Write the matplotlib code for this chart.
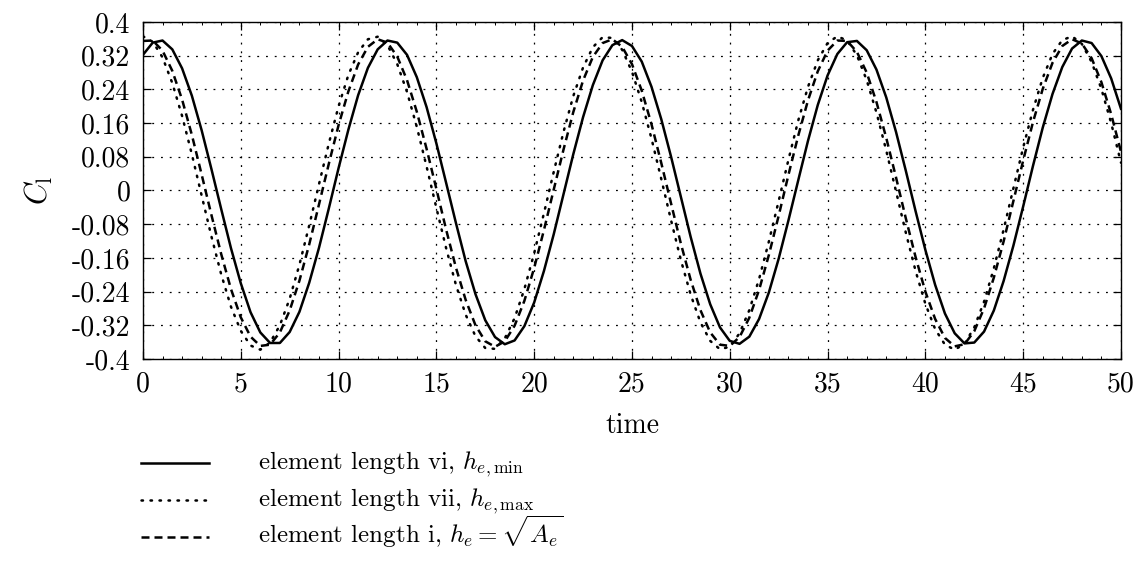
import numpy as np
import matplotlib
matplotlib.use('Agg')
import matplotlib.pyplot as plt
from matplotlib.lines import Line2D

time = np.linspace(0, 50, 101)

cl_vi = [0.322, 0.351, 0.356, 0.335, 0.290, 0.225, 0.143, 0.051, -0.044, -0.137,
         -0.220, -0.289, -0.337, -0.362, -0.362, -0.336, -0.288, -0.219, -0.136, -0.043,
         0.053, 0.144, 0.226, 0.291, 0.335, 0.356, 0.351, 0.322, 0.269, 0.198,
         0.112, 0.018, -0.077, -0.168, -0.246, -0.308, -0.348, -0.365, -0.356, -0.322,
         -0.266, -0.191, -0.104, -0.009, 0.086, 0.174, 0.250, 0.309, 0.345, 0.357,
         0.343, 0.306, 0.246, 0.169, 0.080, -0.015, -0.110, -0.197, -0.270, -0.325,
         -0.357, -0.364, -0.347, -0.305, -0.242, -0.162, -0.071, 0.024, 0.118, 0.203,
         0.273, 0.324, 0.352, 0.355, 0.333, 0.287, 0.221, 0.139, 0.047, -0.049,
         -0.141, -0.224, -0.292, -0.339, -0.363, -0.361, -0.335, -0.285, -0.215, -0.131,
         -0.038, 0.058, 0.149, 0.229, 0.293, 0.337, 0.356, 0.350, 0.319, 0.266,
         0.194]

cl_vii = [0.366, 0.353, 0.316, 0.255, 0.177, 0.086, -0.012, -0.109, -0.199, -0.276,
          -0.333, -0.368, -0.378, -0.361, -0.320, -0.257, -0.176, -0.083, 0.015, 0.111,
          0.200, 0.274, 0.328, 0.359, 0.365, 0.345, 0.300, 0.234, 0.151, 0.057,
          -0.041, -0.137, -0.224, -0.295, -0.346, -0.374, -0.376, -0.351, -0.303, -0.234,
          -0.149, -0.054, 0.044, 0.139, 0.224, 0.292, 0.340, 0.364, 0.362, 0.334,
          0.282, 0.210, 0.123, 0.027, -0.071, -0.165, -0.247, -0.313, -0.357, -0.377,
          -0.371, -0.339, -0.284, -0.210, -0.121, -0.025, 0.073, 0.166, 0.246, 0.309,
          0.350, 0.366, 0.356, 0.321, 0.262, 0.185, 0.095, -0.002, -0.100, -0.191,
          -0.269, -0.329, -0.366, -0.378, -0.364, -0.325, -0.264, -0.185, -0.093, 0.005,
          0.102, 0.191, 0.267, 0.324, 0.357, 0.366, 0.348, 0.305, 0.241, 0.160,
          0.066]

cl_i = [0.355, 0.356, 0.332, 0.284, 0.216, 0.132, 0.038, -0.058, -0.151, -0.234,
        -0.301, -0.347, -0.369, -0.366, -0.337, -0.285, -0.214, -0.128, -0.033, 0.063,
        0.155, 0.235, 0.299, 0.341, 0.359, 0.351, 0.318, 0.262, 0.187, 0.099,
        0.004, -0.093, -0.183, -0.260, -0.320, -0.358, -0.371, -0.358, -0.321, -0.262,
        -0.184, -0.094, 0.002, 0.097, 0.186, 0.261, 0.317, 0.350, 0.359, 0.341,
        0.300, 0.237, 0.157, 0.065, -0.031, -0.126, -0.212, -0.284, -0.337, -0.366,
        -0.369, -0.348, -0.302, -0.236, -0.153, -0.060, 0.037, 0.130, 0.214, 0.283,
        0.332, 0.356, 0.355, 0.329, 0.280, 0.210, 0.125, 0.031, -0.066, -0.158,
        -0.240, -0.305, -0.350, -0.370, -0.365, -0.334, -0.280, -0.207, -0.121, -0.025,
        0.071, 0.162, 0.241, 0.303, 0.343, 0.359, 0.349, 0.314, 0.257, 0.181,
        0.092]

labels = [r'element length vi, $h_{e,\mathrm{min}}$',
          r'element length vii, $h_{e,\mathrm{max}}$',
          r'element length i, $h_e=\sqrt{A_e}$']

x_ticks = [0, 5, 10, 15, 20, 25, 30, 35, 40, 45, 50]
y_ticks = [-0.4, -0.32, -0.24, -0.16, -0.08, 0, 0.08, 0.16, 0.24, 0.32, 0.4]
y_ticklabels = ['-0.4', '-0.32', '-0.24', '-0.16', '-0.08', '0',
                '0.08', '0.16', '0.24', '0.32', '0.4']

# --- style ---
plt.rcParams['font.family'] = 'cmr10'
plt.rcParams['mathtext.fontset'] = 'cm'
plt.rcParams['axes.unicode_minus'] = False
FS = 20
LEG_FS = 18

styles = [dict(ls='-'),
          dict(ls=(0, (0.6, 3.0)), dash_capstyle='round'),
          dict(ls=(0, (3.2, 2.0)))]

fig = plt.figure(figsize=(11.4, 5.71), dpi=100)
ax = fig.add_axes([0.1254, 0.3713, 0.8579, 0.5902])

for vals, st in zip([cl_vi, cl_vii, cl_i], styles):
    ax.plot(time, vals, color='black', lw=1.8, **st)

ax.set_xlim(0, 50)
ax.set_ylim(-0.4, 0.4)
ax.set_xticks(x_ticks)
ax.set_xticklabels([str(v) for v in x_ticks])
ax.set_yticks(y_ticks)
ax.set_yticklabels(y_ticklabels)
ax.set_xticks(np.arange(0, 50.01, 1), minor=True)

ax.grid(True, which='major', color='black', lw=0.9, ls=(0, (1.5, 5.5)))
ax.tick_params(which='major', direction='in', length=6, width=0.9,
               top=True, right=True, labelsize=FS, pad=9)
ax.tick_params(which='minor', direction='in', length=2.5, width=0.7,
               top=True, bottom=True)
for sp in ax.spines.values():
    sp.set_linewidth(1.0)

ax.set_xlabel('time', fontsize=FS, labelpad=11)
ax.set_ylabel(r'$C_\mathrm{l}$', fontsize=FS + 2, labelpad=12)

# legend drawn below the axes, one row per curve
W, H = 1140, 571
row_y = [463, 500, 537]
for y, lab, st in zip(row_y, labels, styles):
    yf = 1 - y / H
    fig.add_artist(Line2D([141 / W, 209 / W], [yf, yf], color='black', lw=1.8,
                          transform=fig.transFigure, **st))
    fig.text(258 / W, yf - 6 / H, lab, fontsize=LEG_FS, va='baseline', ha='left')

fig.savefig('out.png', dpi=100)
